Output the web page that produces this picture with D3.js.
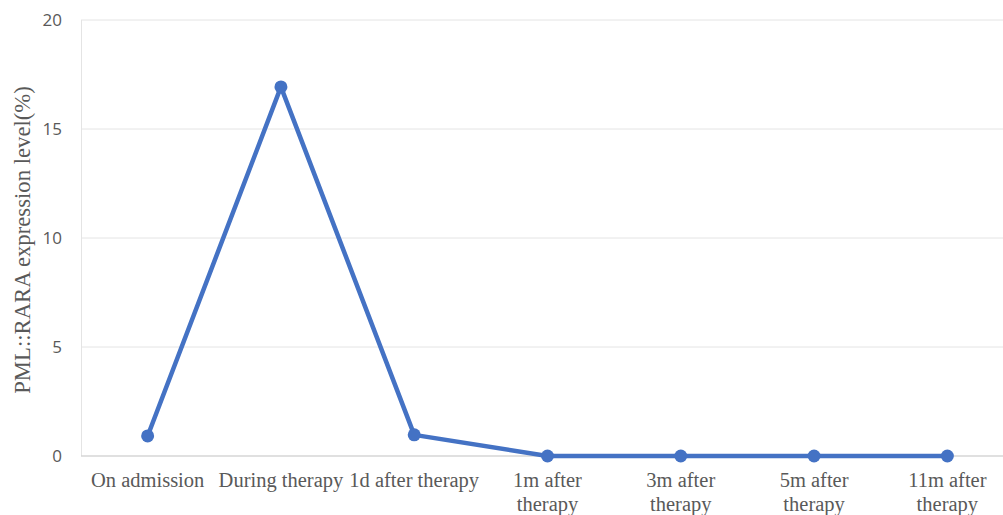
<!DOCTYPE html>
<html>
<head>
<meta charset="utf-8">
<script src="https://cdn.jsdelivr.net/npm/d3@7"></script>
<style>
  body { margin: 0; background: #fff; }
</style>
</head>
<body>
<div class="chart"></div>
<script>
const stages = ['On admission', 'During therapy', '1d after therapy', '1m after therapy',
  '3m after therapy', '5m after therapy', '11m after therapy']
const stage_lines = [['On admission'], ['During therapy'], ['1d after therapy'],
  ['1m after', 'therapy'], ['3m after', 'therapy'], ['5m after', 'therapy'], ['11m after', 'therapy']]
const expression = [0.92, 16.93, 0.97, 0, 0, 0, 0]
const y_ticks = [0, 5, 10, 15, 20]

const width = 1003
const height = 515
const margin = {top: 20, right: -11, bottom: 59, left: 81}

const svg = d3.select('.chart').append('svg')
  .attr('width', width)
  .attr('height', height)

const x = d3.scalePoint()
  .domain(stages)
  .range([margin.left, width - margin.right])
  .padding(0.5)

const y = d3.scaleLinear()
  .domain([0, 20])
  .range([height - margin.bottom, margin.top])

// gridlines
svg.append('g')
  .selectAll('line')
  .data(y_ticks.filter(d => d > 0))
  .enter()
  .append('line')
  .attr('x1', margin.left)
  .attr('x2', width)
  .attr('y1', d => y(d))
  .attr('y2', d => y(d))
  .attr('stroke', '#e4e4e4')
  .attr('stroke-width', 1)

// left border of plot area
svg.append('line')
  .attr('x1', margin.left + 0.5).attr('x2', margin.left + 0.5)
  .attr('y1', y(20)).attr('y2', y(0))
  .attr('stroke', '#e4e4e4')

// x axis line
svg.append('line')
  .attr('x1', margin.left).attr('x2', width)
  .attr('y1', y(0)).attr('y2', y(0))
  .attr('stroke', '#d6d6d6')
  .attr('stroke-width', 1.5)

// y tick labels
svg.append('g')
  .selectAll('text')
  .data(y_ticks)
  .enter()
  .append('text')
  .text(d => d)
  .attr('x', 62)
  .attr('y', d => y(d))
  .attr('dy', '0.35em')
  .attr('text-anchor', 'end')
  .attr('font-family', 'Open Sans, sans-serif')
  .attr('font-size', '17px')
  .attr('fill', '#595959')

// x labels
const xl = svg.append('g')
  .selectAll('text')
  .data(stages)
  .enter()
  .append('text')
  .attr('text-anchor', 'middle')
  .attr('font-family', 'Liberation Serif, Times New Roman, serif')
  .attr('font-size', '20.5px')
  .attr('fill', '#595959')
  .attr('transform', d => `translate(${x(d)}, 487)`)

xl.selectAll('tspan')
  .data((d, i) => stage_lines[i])
  .enter()
  .append('tspan')
  .attr('x', 0)
  .attr('y', (d, i) => i * 24)
  .text(d => d)

// y axis title
svg.append('text')
  .text('PML::RARA expression level(%)')
  .attr('transform', `translate(30, ${(y(0) + y(20)) / 2 + 2}) rotate(-90)`)
  .attr('text-anchor', 'middle')
  .attr('font-family', 'Liberation Serif, Times New Roman, serif')
  .attr('font-size', '22.7px')
  .attr('fill', '#595959')

const line = d3.line()
  .x((d, i) => x(stages[i]))
  .y(d => y(d))

svg.append('path')
  .datum(expression)
  .attr('d', line)
  .attr('fill', 'none')
  .attr('stroke', '#4472C4')
  .attr('stroke-width', 4.5)
  .attr('stroke-linejoin', 'round')

svg.selectAll('circle')
  .data(expression)
  .enter()
  .append('circle')
  .attr('cx', (d, i) => x(stages[i]))
  .attr('cy', d => y(d))
  .attr('r', 6.5)
  .attr('fill', '#4472C4')
</script>
</body>
</html>
